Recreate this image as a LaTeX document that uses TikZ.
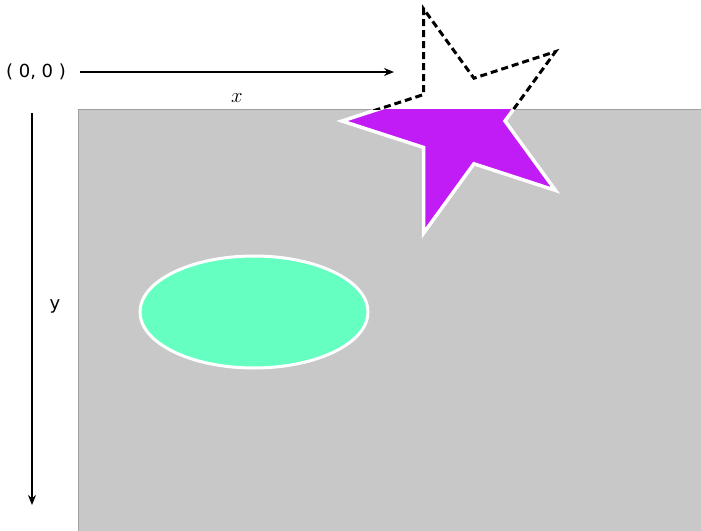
\documentclass[tikz,border=0pt]{standalone}
\usepackage{fontspec}
\newfontfamily\labelfont{DejaVu Sans}
\usetikzlibrary{arrows.meta}
\definecolor{canvasgray}{HTML}{C8C8C8}
\definecolor{canvasedge}{HTML}{A0A0A0}
\definecolor{starpurple}{HTML}{C11CF5}
\definecolor{ovalgreen}{HTML}{66FFC2}
% star outline around its own centre
\def\starshape{(0:45) -- (36:118) -- (72:45) -- (108:118) -- (144:45) -- (180:118) -- (216:45) -- (252:118) -- (288:45) -- (324:118) -- cycle}

\begin{document}
\begin{tikzpicture}[x=1pt, y=-1pt, >={Stealth[length=10pt,width=8pt]},
    axis/.style={draw, ->, line width=1.5pt},
    label/.style={font=\labelfont\fontsize{18}{21}\selectfont, inner sep=0pt},
    canvas/.style={fill=canvasgray, draw=canvasedge, line width=1pt},
    oval/.style={fill=ovalgreen, draw=white, line width=3pt},
    starfill/.style={fill=starpurple, draw=white, line width=3.5pt},
    starghost/.style={draw=black, line width=3pt, dash pattern=on 7pt off 4pt}]

    \useasboundingbox (0,0) rectangle (701,530);

    % drawing area
    \path [canvas] (78,109) rectangle (705,535);
    \path [oval] (254,312) ellipse [x radius=114, y radius=56];

    % star: filled inside the canvas, dashed outside it
    \begin{scope}
        \clip (78.5,109.5) rectangle (705,535);
        \path [starfill, shift={(460,121)}] \starshape;
    \end{scope}
    \begin{scope}
        \clip (0,0) rectangle (705,109);
        \path [starghost, shift={(460,121)}] \starshape;
    \end{scope}

    % axes
    \node [label] (origin) at (36,72) {( 0, 0 )};
    \coordinate (xstart) at (80,72);
    \coordinate (xend) at (394,72);
    \coordinate (ystart) at (32,113);
    \coordinate (yend) at (32,505);
    \path [axis] (xstart) -- node [below=17pt, font=\fontsize{20}{22}\selectfont] (xlabel) {$x$} (xend);
    \path [axis] (ystart) -- (yend);
    \node [label] (ylabel) at (55,306) {y};
\end{tikzpicture}
\end{document}
